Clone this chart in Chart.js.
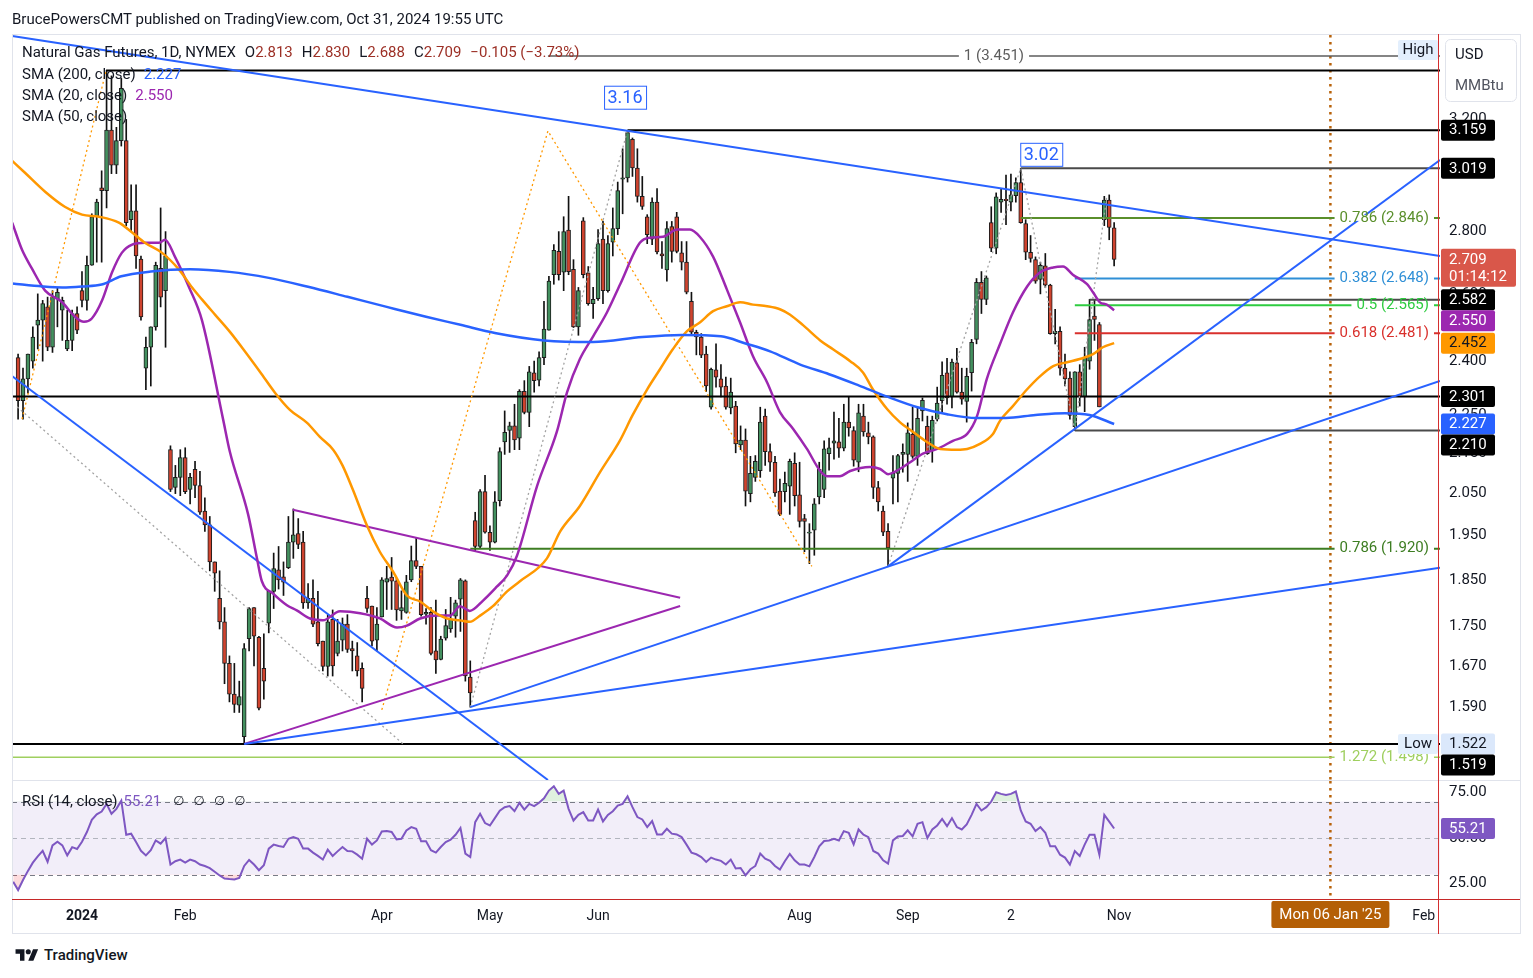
<!DOCTYPE html>
<html>
<head>
<meta charset="utf-8">
<title>Natural Gas Futures, 1D, NYMEX</title>
<script src="https://cdn.jsdelivr.net/npm/chart.js@4.4.1/dist/chart.umd.min.js"></script>
<style>
  html, body { margin: 0; padding: 0; background: #fff; }
  body { width: 1533px; height: 978px; position: relative; overflow: hidden;
         font-family: Roboto, "Liberation Sans", sans-serif; color: #131722; }
  canvas { position: absolute; left: 0; }
  #main { top: 0; }
  #rsi { top: 781px; }
  #header { position: absolute; left: 12px; top: 10px; font-size: 15px; line-height: 18px; }
  #frame { position: absolute; left: 12px; top: 34px; width: 1507px; height: 898px;
           border: 1px solid #e0e3eb; pointer-events: none; }
  #sep { position: absolute; left: 12px; top: 780px; width: 1508px; height: 1px; background: #e0e3eb; }
  #redV { position: absolute; left: 1438px; top: 34px; width: 1px; height: 900px; background: #d32f2f; }
  #redH { position: absolute; left: 12px; top: 899px; width: 1508px; height: 1px; background: #c62828; }
  #footer { position: absolute; left: 15px; top: 946px; display: flex; align-items: center; gap: 5px;
            font-size: 15px; font-weight: 500; color: #131722; }
</style>
</head>
<body>
<canvas id="main" width="1533" height="781"></canvas>
<canvas id="rsi" width="1533" height="154"></canvas>
<div id="frame"></div>
<div id="sep"></div>
<div id="redV"></div>
<div id="redH"></div>
<div id="header">BrucePowersCMT published on TradingView.com, Oct 31, 2024 19:55 UTC</div>
<div id="footer">
  <svg width="24" height="14" viewBox="0 0 36 22"><path d="M14 20H7V9H0V2h14v18zM28 20h-8l7.5-18h8L28 20z" fill="#131722"/><circle cx="20" cy="6" r="4" fill="#131722"/></svg>
  <span>TradingView</span>
</div>
<script>
// ---- bars: index 0 = 2 Jan 2024, one step per trading day ----
const firstBar = -13;
const opens = [
  2.41,2.29,2.35,2.40,2.505,2.52,2.56,2.44,2.585,2.55,2.435,2.46,2.54,
  2.61,2.58,2.69,2.85,2.95,2.94,3.16,3.03,3.12,3.12,2.84,2.87,2.71,2.38,2.44,2.50,2.68,2.61,
  2.16,2.065,2.09,2.14,2.06,2.11,2.07,2.008,1.975,1.89,1.81,1.76,1.675,1.615,1.594,1.535,1.725,1.79,1.728,1.665,
  1.757,1.825,1.872,1.857,1.877,1.935,1.955,1.935,1.80,1.81,1.76,1.72,1.669,1.765,1.695,1.722,1.755,1.705,1.69,
  1.665,1.81,1.793,1.722,1.77,1.845,1.856,1.848,1.783,1.78,1.85,1.893,1.88,1.776,1.78,1.70,
  1.683,1.726,1.745,1.772,1.808,1.848,1.648,1.985,1.925,2.055,1.958,1.935,2.033,2.18,2.21,2.222,
  2.19,2.315,2.258,2.367,2.346,2.41,2.49,2.66,2.735,2.668,2.805,2.677,2.50,2.836,2.666,2.57,
  2.585,2.775,2.61,2.765,2.81,2.98,2.985,3.125,3.02,
  2.92,2.85,2.775,2.90,2.727,2.675,2.817,2.85,2.73,2.70,2.577,2.484,2.47,2.42,2.272,2.375,2.35,2.33,
  2.27,2.275,2.172,2.185,2.05,2.09,2.107,2.248,2.155,2.128,2.056,2.055,2.068,2.125,2.047,1.99,1.956,1.963,
  2.042,2.06,2.15,2.177,2.18,2.164,2.232,2.21,2.128,2.248,2.204,2.193,2.065,2.008,1.96,2.088,2.10,2.148,
  2.148,2.20,2.143,2.262,2.221,2.157,2.24,2.29,2.367,2.30,2.395,2.313,2.288,2.367,2.463,2.636,2.583,2.83,2.745,
  2.90,2.91,2.90,2.922,2.968,2.827,2.732,2.708,2.645,2.688,2.627,2.48,
  2.487,2.38,2.352,2.22,2.37,2.30,2.40,2.532,2.507,2.84,2.907,2.813
];
const highs = [
  2.42,2.38,2.42,2.50,2.60,2.58,2.59,2.61,2.62,2.59,2.55,2.55,2.56,
  2.67,2.72,2.86,2.91,3.01,3.392,3.37,3.17,3.36,3.20,2.96,2.96,2.72,2.47,2.50,2.70,2.88,2.80,
  2.17,2.12,2.16,2.165,2.10,2.13,2.105,2.04,1.995,1.89,1.87,1.79,1.69,1.675,1.64,1.715,1.79,1.79,1.73,1.735,
  1.827,1.91,1.925,1.89,1.995,2.013,1.99,1.96,1.842,1.85,1.825,1.72,1.775,1.785,1.765,1.768,1.775,1.72,1.717,
  1.676,1.836,1.793,1.79,1.855,1.88,1.90,1.853,1.826,1.86,1.926,1.945,1.88,1.788,1.79,1.806,
  1.73,1.786,1.812,1.806,1.853,1.85,1.68,2.005,2.06,2.095,1.973,2.055,2.165,2.262,2.232,2.28,
  2.32,2.345,2.385,2.40,2.427,2.577,2.655,2.757,2.80,2.85,2.92,2.708,2.62,2.847,2.686,2.62,
  2.807,2.835,2.787,2.88,2.97,3.09,3.159,3.13,3.09,
  2.99,2.857,2.915,2.947,2.767,2.834,2.834,2.865,2.767,2.767,2.605,2.49,2.48,2.443,2.38,2.45,2.39,2.355,
  2.352,2.288,2.222,2.214,2.143,2.145,2.272,2.267,2.175,2.143,2.086,2.103,2.136,2.152,2.128,2.0,1.978,2.038,
  2.128,2.183,2.19,2.259,2.242,2.28,2.30,2.22,2.28,2.28,2.232,2.196,2.08,2.02,1.978,2.145,2.148,2.175,
  2.23,2.272,2.272,2.297,2.248,2.248,2.327,2.398,2.408,2.406,2.437,2.38,2.38,2.463,2.648,2.67,2.656,2.884,2.932,
  2.945,2.995,2.998,2.985,3.019,2.84,2.787,2.717,2.70,2.728,2.63,2.553,
  2.50,2.42,2.37,2.37,2.39,2.44,2.583,2.583,2.513,2.92,2.925,2.830
];
const lows = [
  2.24,2.24,2.31,2.38,2.435,2.40,2.43,2.425,2.50,2.46,2.43,2.43,2.48,
  2.56,2.55,2.69,2.70,2.70,2.88,3.00,3.00,3.10,2.82,2.80,2.68,2.52,2.32,2.33,2.49,2.56,2.44,
  2.055,2.05,2.045,2.05,2.025,2.04,2.0,1.96,1.87,1.825,1.745,1.635,1.60,1.58,1.58,1.522,1.70,1.67,1.585,1.605,
  1.737,1.788,1.83,1.816,1.875,1.898,1.92,1.788,1.788,1.75,1.71,1.66,1.65,1.65,1.69,1.70,1.697,1.66,1.65,
  1.60,1.78,1.71,1.70,1.77,1.786,1.786,1.763,1.765,1.778,1.846,1.875,1.772,1.755,1.692,1.655,
  1.682,1.722,1.738,1.728,1.74,1.64,1.59,1.914,1.92,1.956,1.916,1.933,2.02,2.148,2.153,2.16,
  2.16,2.254,2.22,2.313,2.33,2.39,2.49,2.63,2.643,2.61,2.66,2.498,2.475,2.65,2.565,2.525,
  2.58,2.57,2.605,2.72,2.79,2.86,2.97,2.99,2.90,
  2.875,2.76,2.757,2.727,2.68,2.64,2.70,2.73,2.675,2.60,2.478,2.418,2.41,2.315,2.267,2.327,2.30,2.267,
  2.254,2.152,2.16,2.02,2.03,2.08,2.09,2.12,2.105,2.043,1.997,2.03,2.0,2.02,1.97,1.913,1.886,1.905,
  2.025,2.04,2.108,2.136,2.14,2.157,2.195,2.118,2.104,2.195,2.175,2.038,2.008,1.95,1.88,2.025,2.03,2.103,
  2.08,2.138,2.12,2.235,2.148,2.128,2.235,2.259,2.28,2.27,2.31,2.28,2.232,2.316,2.45,2.54,2.567,2.734,2.727,
  2.865,2.823,2.87,2.90,2.828,2.708,2.70,2.633,2.60,2.62,2.478,2.45,
  2.36,2.33,2.24,2.21,2.275,2.26,2.377,2.46,2.273,2.82,2.773,2.688
];
const closes = [
  2.29,2.35,2.42,2.47,2.52,2.57,2.44,2.59,2.605,2.58,2.46,2.54,2.49,
  2.58,2.69,2.85,2.90,2.94,3.16,3.03,3.12,3.32,2.83,2.87,2.72,2.53,2.44,2.50,2.69,2.59,2.72,
  2.06,2.09,2.14,2.055,2.09,2.07,2.005,1.975,1.89,1.865,1.76,1.675,1.615,1.595,1.61,1.705,1.788,1.73,1.588,1.64,
  1.825,1.875,1.85,1.845,1.935,1.952,1.93,1.80,1.81,1.755,1.715,1.669,1.76,1.67,1.72,1.755,1.703,1.70,1.66,
  1.626,1.788,1.72,1.755,1.85,1.853,1.847,1.785,1.79,1.846,1.893,1.88,1.775,1.78,1.695,1.682,
  1.724,1.752,1.765,1.80,1.85,1.65,1.617,1.925,2.055,1.958,1.935,2.03,2.155,2.205,2.222,2.185,
  2.315,2.258,2.37,2.345,2.41,2.493,2.64,2.738,2.66,2.80,2.67,2.50,2.61,2.66,2.57,2.583,
  2.76,2.61,2.76,2.81,2.94,2.985,3.15,3.02,2.92,
  2.885,2.79,2.90,2.733,2.72,2.81,2.735,2.735,2.70,2.605,2.484,2.47,2.417,2.33,2.377,2.355,2.327,2.272,
  2.313,2.175,2.185,2.056,2.10,2.13,2.232,2.155,2.128,2.052,2.0,2.075,2.13,2.045,1.983,1.983,1.958,2.025,
  2.11,2.162,2.165,2.183,2.164,2.232,2.217,2.133,2.257,2.206,2.193,2.065,2.03,1.958,1.922,2.10,2.145,2.153,
  2.204,2.143,2.242,2.291,2.15,2.237,2.283,2.36,2.297,2.397,2.313,2.294,2.357,2.454,2.636,2.583,2.65,2.745,2.918,
  2.91,2.905,2.925,2.968,2.83,2.732,2.712,2.64,2.69,2.627,2.48,2.487,
  2.38,2.35,2.25,2.37,2.30,2.41,2.522,2.522,2.273,2.907,2.814,2.709
];

// ---- moving averages (bar index, value) ----
const sma200Idx = [-14.2,-8,-4,0,4,8,14,22,30,38,46,54,62,70,77,84,94,104,114,122,130,135,140,146,152,158,164,170,176,182,188,194,200,205,210];
const sma200Val = [2.632,2.623,2.62,2.623,2.629,2.655,2.67,2.677,2.669,2.650,2.622,2.591,2.560,2.530,2.506,2.482,2.46,2.455,2.47,2.476,2.472,2.451,2.428,2.391,2.363,2.332,2.30,2.272,2.253,2.243,2.243,2.251,2.256,2.251,2.227];
const sma20Idx = [-14.2,-12.2,-10.2,-7.5,-4.1,-1.4,0.4,2,4.1,6.1,8.1,10.2,12.8,15.7,16.9,18.9,21.8,24.4,28.7,30.1,33.8,35.6,36.6,38.9,41.7,43.7,46.4,49,52.5,56.6,
  60.6,64.1,66.1,68.8,72.2,74.9,76.9,78.9,81.6,84.4,86.5,88.5,92.6,96.6,98.7,101.3,104,106.8,109.5,113.5,115.6,118.2,121.1,123.7,125.7,128.4,131.2,133.9,136.5,139.4,
  142,144.7,147.5,150.2,151.6,154.2,156.3,160.3,162.4,164,166.4,168.5,171.1,174,177.2,180.1,182.1,184.1,186.8,189.4,192.3,194.9,197.6,199.6,201.6,204.5,205.7,207.1,208.5,210];
const sma20Val = [2.83,2.74,2.68,2.61,2.575,2.53,2.515,2.525,2.58,2.667,2.73,2.757,2.763,2.763,2.773,2.718,2.62,2.52,2.24,2.154,2.0,1.898,1.847,1.82,1.795,1.784,1.767,1.763,1.782,1.778,
  1.767,1.748,1.752,1.767,1.773,1.773,1.793,1.783,1.805,1.835,1.86,1.904,2.069,2.206,2.313,2.406,2.472,2.543,2.63,2.763,2.78,2.783,2.807,2.807,2.783,2.718,2.614,2.513,2.415,2.34,
  2.259,2.214,2.162,2.106,2.093,2.093,2.106,2.116,2.111,2.098,2.111,2.128,2.15,2.162,2.183,2.201,2.248,2.35,2.45,2.543,2.623,2.667,2.683,2.686,2.66,2.63,2.605,2.574,2.567,2.55];
const sma50Idx = [-14.2,-11.6,-7.5,-3.5,0,3.5,7.5,10.2,12.8,16.3,19.7,22.4,24.4,27.1,30.1,33.2,36.2,39.3,42.3,45.8,48.4,51.1,53,55.1,58,60.6,63.3,66.1,68.8,71.4,
  74.3,76.9,78.9,81,83.6,86.5,89.1,94.6,97.3,101.3,105.4,109.5,112,115,117.6,120.2,123.1,125.7,128.4,131.2,133.9,136.5,139.4,142,144,146.7,150.2,152.8,156.3,158.9,
  160.9,163.8,166.4,169.1,171.9,174.6,178,180.1,182.7,185.3,186.8,189.4,192.3,194.9,197.6,200.4,203,205.7,207.7,210];
const sma50Val = [3.046,3.003,2.936,2.884,2.857,2.85,2.83,2.797,2.763,2.73,2.677,2.62,2.583,2.536,2.485,2.427,2.37,2.311,2.265,2.23,2.193,2.16,2.12,2.06,1.973,1.913,1.868,1.816,1.803,1.782,
  1.767,1.763,1.76,1.773,1.793,1.825,1.847,1.898,1.96,2.02,2.103,2.185,2.25,2.321,2.377,2.434,2.487,2.513,2.547,2.562,2.574,2.567,2.562,2.553,2.537,2.505,2.46,2.434,2.40,2.368,
  2.321,2.267,2.232,2.206,2.18,2.162,2.16,2.162,2.175,2.2,2.236,2.275,2.321,2.357,2.386,2.397,2.406,2.42,2.44,2.452];

// ---- RSI(14), one value per bar from index -14 ----
const rsiFirst = -14;
const rsiValues = [
  26,21.5,27,32,36.5,40,43,37,46,48, 46,40.5,45,44,48,53.3,60,63,64.5,68.7,
  63.3,66,70.5,51.8,52.4,47.8,43,40.5,43.3,48.7, 46.9,50,35.5,37.3,38.2,36.5,38.2,37.3,35.5,34.7,
  33.5,31.5,29.5,27.8,27.5,27.3,28.2,34.7,38,35.5, 32.4,35.1,44.2,46.4,45.6,45.1,49.6,50.5,49.6,44.2,
  44.2,42,40.2,38.2,43.6,40.2,42.7,45.1,42.9,42.7, 40.9,38.7,49.6,46.4,48.7,53.6,53.8,53.3,49.3,49.6,
  54.2,56,55.1,48.2,48.2,43.3,42,45.1,47.8,49.1, 51.8,55.5,41.5,39.6,58.7,63.3,58.2,56.9,60.9,65,
  66.9,67.5,64.7,69.3,65.6,68.7,67.5,69.3,71.8,76, 78.4,74.2,76,66,59.6,62.7,64.2,59.6,59.6,65.6,
  59.1,62.7,64.7,67.8,68.7,72.9,66.9,61.5,60.2,56, 59.3,52,52,55.1,52.4,52,50.5,46.4,42,41.1,
  39.6,36.9,39.3,38.2,37.5,35.5,38.2,33.3,33.6,29.6, 32.9,34.7,41.5,38.7,37.5,34.7,32.7,37.3,41.3,37.8,
  35.5,35.5,34.5,39.6,45.5,48.4,48.7,49.6,48.7,53.8, 52.9,46.5,54.7,51.8,50.5,42.9,41.5,37.8,36,48.7,
  50.9,51.1,54.2,50.9,57.8,58.7,50,54.7,56.9,60.5, 56.5,60.9,56,54.7,57.5,62.7,68.7,65.1,66.9,70,
  75.1,74.2,73.6,74.2,75.5,65.1,59.1,57.8,53.8,56, 52.9,45.5,45.5,40.9,39.3,35.5,42.9,40.2,46.4,51.8,
  51.8,40.9,62.7,59,55.21
];

// ---- axes ----
const priceTicks = [1.590,1.670,1.750,1.850,1.950,2.050,2.150,2.250,2.400,2.600,2.800,3.000,3.200];
const rsiTicks = [25, 50, 75];
const timeTickIdx = [0, 21, 61, 83, 105, 146, 168, 189, 211, 273];
const timeTickText = ['2024','Feb','Apr','May','Jun','Aug','Sep','2','Nov','Feb'];
const cursorIdx = 254;
const cursorText = "Mon 06 Jan '25";

// ---- drawings: horizontal levels ----
const levelPrices = [3.451, 3.392, 3.159, 3.019, 2.846, 2.648, 2.582, 2.565, 2.481, 2.301, 2.210, 1.920, 1.522, 1.498];
const levelFrom   = [94.8, 4.9, 111, 191, 191, 202, 205, 202, 202, -15, 202, 79, -15, -15];
const levelRatio  = ['1', '', '', '', '0.786', '0.382', '', '0.5', '0.618', '', '', '0.786', '', '1.272'];
// ---- drawings: trend lines and dotted paths ----
const trendIdx = [[-14.24, 276.3], [-14.24, 94.8], [33, 276.3], [79, 276.3], [164, 276.3], [42.9, 121.7], [33, 121.7]];
const trendVal = [[3.534, 2.720], [2.358, 1.458], [1.522, 1.877], [1.59, 2.344], [1.88, 3.049], [2.011, 1.811], [1.522, 1.7935]];
const pathIdx = [[-12.2, 4.9], [61, 94.8, 148.5], [-13.2, 65.7], [79, 111], [164, 191, 202, 208.5]];
const pathVal = [[2.24, 3.392], [1.585, 3.156, 1.88], [2.273, 1.519], [1.59, 3.159], [1.88, 3.019, 2.21, 2.92]];
const peakIdx = [111, 191];
const peakVal = [3.159, 3.019];
const peakText = ['3.16', '3.02'];
// ---- price scale marks ----
const markVal = [3.159, 3.019, 2.709, 2.582, 2.550, 2.452, 2.301, 2.227, 2.210, 1.522, 1.519];
const markSub = ['', '', '01:14:12', '', '', '', '', '', '', '', ''];

// ---- styles ----
const FONT = 'Roboto, "Liberation Sans", "DejaVu Sans", sans-serif';
const UP = '#43905f', DOWN = '#cf432e', INK = '#131722';
const levelColor = ['#5d5d5d','#000','#000','#4a4a4a','#5a8f2b','#2f8fd6','#4a4a4a','#2ecc40','#d9302c','#000','#4a4a4a','#3d7d22','#000','#9fcf5f'];
const levelWidth = [1.5, 2, 2, 2, 2, 2, 2, 2, 2, 2, 2, 2, 2, 1.5];
const trendColor = ['#2962ff','#2962ff','#2962ff','#2962ff','#2962ff','#9c27b0','#9c27b0'];
const pathColor = ['#ff9800','#ff9800','#a3a3a3','#a3a3a3','#a3a3a3'];
const markBg = ['#000','#000','#d9574a','#000','#9c27b0','#ff9800','#000','#2962ff','#000','#dbe8fb','#000'];
const markFg = ['#fff','#fff','#fff','#fff','#fff',INK,'#fff','#fff','#fff',INK,'#fff'];

Chart.defaults.font.family = FONT;
const xMin = -14.24, xMax = 276.3;

function pts(xs, ys) { return xs.map((x, i) => ({ x: x, y: ys[i] })); }

function txt(ctx, s, x, y, color, size, align, weight) {
  ctx.font = (weight || 'normal') + ' ' + size + 'px ' + FONT;
  ctx.fillStyle = color;
  ctx.textAlign = align || 'left';
  ctx.textBaseline = 'middle';
  ctx.fillText(s, x, y);
  return ctx.measureText(s).width;
}

function box(ctx, x, y, w, h, fill, stroke, r) {
  ctx.beginPath();
  ctx.roundRect(x, y, w, h, r || 2);
  if (fill) { ctx.fillStyle = fill; ctx.fill(); }
  if (stroke) { ctx.strokeStyle = stroke; ctx.lineWidth = 1; ctx.stroke(); }
}

function vDotted(chart) {
  const { ctx, chartArea: a, scales } = chart;
  const px = scales.x.getPixelForValue(cursorIdx);
  ctx.save();
  ctx.strokeStyle = '#b8620a';
  ctx.lineWidth = 2.5;
  ctx.setLineDash([2.5, 4.5]);
  ctx.beginPath();
  ctx.moveTo(px, a.top);
  ctx.lineTo(px, a.bottom);
  ctx.stroke();
  ctx.restore();
}

// candles as floating bars
const wickData = [], bodyData = [], bodyColor = [];
closes.forEach((c, i) => {
  const x = firstBar + i;
  wickData.push({ x: x, y: [lows[i], highs[i]] });
  bodyData.push({ x: x, y: [opens[i], c] });
  bodyColor.push(c >= opens[i] ? UP : DOWN);
});

const datasets = [
  { type: 'bar', data: wickData, backgroundColor: '#111', barThickness: 1, grouped: false, order: 30 },
  { type: 'bar', data: bodyData, backgroundColor: bodyColor, borderColor: '#1d1d1d', borderWidth: 1,
    borderSkipped: false, barThickness: 4, minBarLength: 1, grouped: false, order: 29 }
];
levelPrices.forEach((p, i) => {
  datasets.push({ type: 'line', data: [{ x: levelFrom[i], y: p }, { x: xMax + 1, y: p }],
    borderColor: levelColor[i], borderWidth: levelWidth[i], pointRadius: 0, order: 12, clip: 0 });
});
trendIdx.forEach((xs, i) => {
  datasets.push({ type: 'line', data: pts(xs, trendVal[i]), borderColor: trendColor[i],
    borderWidth: 2, pointRadius: 0, order: 10, clip: 0 });
});
pathIdx.forEach((xs, i) => {
  datasets.push({ type: 'line', data: pts(xs, pathVal[i]), borderColor: pathColor[i],
    borderWidth: 1.3, borderDash: [2, 3], pointRadius: 0, order: 11, clip: 0 });
});
[[sma200Idx, sma200Val, '#2962ff'], [sma50Idx, sma50Val, '#ff9800'], [sma20Idx, sma20Val, '#9c27b0']].forEach(s => {
  datasets.push({ type: 'line', data: pts(s[0], s[1]), borderColor: s[2], borderWidth: 2.5,
    pointRadius: 0, cubicInterpolationMode: 'monotone', order: 5, clip: 0 });
});

const mainOverlay = {
  id: 'mainOverlay',
  beforeDatasetsDraw(chart) { vDotted(chart); },
  afterDatasetsDraw(chart) {
    const { ctx, chartArea: a, scales: { x, y } } = chart;
    ctx.save();
    // fib level captions
    levelRatio.forEach((r, i) => {
      if (!r) return;
      const py = y.getPixelForValue(levelPrices[i]);
      const s = r + ' (' + levelPrices[i].toFixed(3) + ')';
      ctx.font = '15px ' + FONT;
      const w = ctx.measureText(s).width;
      let right;
      if (r === '1') {
        const cx = (x.getPixelForValue(levelFrom[i]) + a.right) / 2;
        right = cx + w / 2;
      } else {
        right = a.right - 11;
      }
      ctx.fillStyle = '#fff';
      ctx.fillRect(right - w - 5, py - 3, w + 10, 6);
      txt(ctx, s, right, py, levelColor[i], 15, 'right');
    });
    // High / Low tags
    [[0, 'High'], [12, 'Low']].forEach(t => {
      const py = y.getPixelForValue(levelPrices[t[0]]);
      const top = t[1] === 'High' ? py - 16 : py - 10;
      box(ctx, a.right - 42, top, 40, 20, '#e3effd');
      txt(ctx, t[1], a.right - 22, top + 10.5, INK, 15, 'center');
    });
    // peak captions
    peakIdx.forEach((pi, i) => {
      const px = x.getPixelForValue(pi), py = y.getPixelForValue(peakVal[i]);
      const cx = i === 0 ? px - 2.5 : px + 20.5;
      const cy = i === 0 ? py - 33 : py - 14;
      ctx.fillStyle = '#fff';
      ctx.fillRect(cx - 21, cy - 11.5, 42, 23);
      ctx.strokeStyle = '#2962ff'; ctx.lineWidth = 1;
      ctx.strokeRect(cx - 21 + 0.5, cy - 11.5 + 0.5, 42, 23);
      txt(ctx, peakText[i], cx, cy + 1, '#2962ff', 18, 'center');
    });
    ctx.restore();
  },
  afterDraw(chart) {
    const { ctx, chartArea: a, scales: { y } } = chart;
    ctx.save();
    // price scale marks, pushed apart like the platform does
    const items = markVal.map((v, i) => ({ v: v, i: i, py: y.getPixelForValue(v) })).sort((p, q) => p.py - q.py);
    let lastBottom = -1e9;
    items.forEach(it => {
      const two = !!markSub[it.i];
      const h = two ? 38 : 21, w = two ? 75 : 54;
      let top = it.py - 10.5;
      if (top < lastBottom) top = lastBottom;
      lastBottom = top + h;
      box(ctx, a.right + 1, top, w, h, markBg[it.i]);
      txt(ctx, it.v.toFixed(3), a.right + 9, top + 11, markFg[it.i], 15);
      if (two) txt(ctx, markSub[it.i], a.right + 9, top + 28, markFg[it.i], 15);
    });
    // unit box
    box(ctx, a.right + 5.5, 39.5, 71, 62, '#fff', '#e0e3eb', 5);
    txt(ctx, 'USD', a.right + 15, 55, INK, 15);
    txt(ctx, 'MMBtu', a.right + 15, 86, '#50535e', 15);
    // legend
    let lx = 22;
    lx += txt(ctx, 'Natural Gas Futures, 1D, NYMEX', lx, 53, INK, 15) + 9;
    const n = closes.length - 1;
    const chg = closes[n] - closes[n - 1];
    [['O', opens[n]], ['H', highs[n]], ['L', lows[n]], ['C', closes[n]]].forEach(p => {
      lx += txt(ctx, p[0], lx, 53, INK, 15);
      lx += txt(ctx, p[1].toFixed(3), lx, 53, '#9c2f25', 15) + 9;
    });
    txt(ctx, '\u2212' + Math.abs(chg).toFixed(3) + ' (\u2212' + Math.abs(chg / closes[n - 1] * 100).toFixed(2) + '%)', lx, 53, '#9c2f25', 15);
    const w200 = txt(ctx, 'SMA (200, close)', 22, 75, INK, 15);
    txt(ctx, sma200Val[sma200Val.length - 1].toFixed(3), 22 + w200 + 8, 75, '#2962ff', 15);
    const w20 = txt(ctx, 'SMA (20, close)', 22, 96, INK, 15);
    txt(ctx, sma20Val[sma20Val.length - 1].toFixed(3), 22 + w20 + 8, 96, '#9c27b0', 15);
    txt(ctx, 'SMA (50, close)', 22, 117, INK, 15);
    ctx.restore();
  }
};

new Chart(document.getElementById('main'), {
  type: 'bar',
  data: { datasets: datasets },
  options: {
    responsive: false, animation: false,
    layout: { padding: { left: 12, top: 35, right: 0, bottom: 1 } },
    plugins: { legend: { display: false }, tooltip: { enabled: false } },
    scales: {
      x: { type: 'linear', min: xMin, max: xMax, offset: false, display: false },
      y: {
        type: 'logarithmic', position: 'right', min: 1.458, max: 3.538,
        grid: { display: false, drawTicks: false }, border: { display: false },
        afterBuildTicks(s) { s.ticks = priceTicks.map(v => ({ value: v })); },
        afterFit(s) { s.width = 93; s.paddingTop = 0; s.paddingBottom = 0; },
        ticks: { callback: v => Number(v).toFixed(3), color: INK, font: { size: 15 }, padding: 9 }
      }
    }
  },
  plugins: [mainOverlay]
});

// ---- RSI pane ----
const rsiData = rsiValues.map((v, i) => ({ x: rsiFirst + i, y: v }));

const rsiOverlay = {
  id: 'rsiOverlay',
  beforeDatasetsDraw(chart) {
    const { ctx, chartArea: a, scales: { y } } = chart;
    ctx.save();
    const y70 = y.getPixelForValue(70), y30 = y.getPixelForValue(30), y50 = y.getPixelForValue(50);
    ctx.fillStyle = 'rgba(126,87,194,0.1)';
    ctx.fillRect(a.left, y70, a.right - a.left, y30 - y70);
    ctx.lineWidth = 1;
    ctx.setLineDash([5, 4]);
    [[y70, '#787b86'], [y30, '#787b86'], [y50, '#b2b5be']].forEach(l => {
      ctx.strokeStyle = l[1];
      ctx.beginPath();
      ctx.moveTo(a.left, Math.round(l[0]) + 0.5);
      ctx.lineTo(a.right, Math.round(l[0]) + 0.5);
      ctx.stroke();
    });
    ctx.restore();
    vDotted(chart);
  },
  afterDraw(chart) {
    const { ctx, chartArea: a, scales: { x, y } } = chart;
    ctx.save();
    let lx = 22;
    lx += txt(ctx, 'RSI (14, close)', lx, 21, INK, 15) + 6;
    lx += txt(ctx, rsiValues[rsiValues.length - 1].toFixed(2), lx, 21, '#7e57c2', 15) + 12;
    for (let k = 0; k < 4; k++) lx += txt(ctx, '\u2205', lx, 21, INK, 13) + 9;
    const py = y.getPixelForValue(rsiValues[rsiValues.length - 1]);
    box(ctx, a.right + 1, py - 10.5, 54, 21, '#7e57c2');
    txt(ctx, rsiValues[rsiValues.length - 1].toFixed(2), a.right + 9, py + 0.5, '#fff', 15);
    const cx = x.getPixelForValue(cursorIdx);
    box(ctx, cx - 59, a.bottom + 2, 118, 27, '#b45f06');
    txt(ctx, cursorText, cx, a.bottom + 16, '#fff', 15, 'center');
    ctx.restore();
  }
};

new Chart(document.getElementById('rsi'), {
  type: 'line',
  data: {
    datasets: [
      { data: rsiData, borderColor: '#7e57c2', borderWidth: 2, pointRadius: 0,
        fill: { target: { value: 70 }, above: 'rgba(76,175,80,0.18)', below: 'rgba(0,0,0,0)' } },
      { data: rsiData, borderColor: 'rgba(0,0,0,0)', borderWidth: 0, pointRadius: 0,
        fill: { target: { value: 30 }, above: 'rgba(0,0,0,0)', below: 'rgba(242,54,69,0.18)' } }
    ]
  },
  options: {
    responsive: false, animation: false,
    layout: { padding: { left: 12, top: 0, right: 0, bottom: 0 } },
    plugins: { legend: { display: false }, tooltip: { enabled: false } },
    scales: {
      x: {
        type: 'linear', min: xMin, max: xMax, offset: false,
        grid: { display: false, drawTicks: false }, border: { display: false },
        afterBuildTicks(s) { s.ticks = timeTickIdx.map(v => ({ value: v })); },
        afterFit(s) { s.height = 36; s.paddingLeft = 0; s.paddingRight = 0; },
        ticks: {
          autoSkip: false, maxRotation: 0, padding: 9, color: INK,
          callback: v => timeTickText[timeTickIdx.indexOf(v)],
          font: c => ({ size: 14, weight: c.tick && c.tick.value === 0 ? 'bold' : 'normal' })
        }
      },
      y: {
        position: 'right', min: 16.6, max: 81.25,
        grid: { display: false, drawTicks: false }, border: { display: false },
        afterBuildTicks(s) { s.ticks = rsiTicks.map(v => ({ value: v })); },
        afterFit(s) { s.width = 93; s.paddingTop = 0; s.paddingBottom = 0; },
        ticks: { callback: v => Number(v).toFixed(2), color: INK, font: { size: 15 }, padding: 9 }
      }
    }
  },
  plugins: [rsiOverlay]
});
</script>
</body>
</html>
